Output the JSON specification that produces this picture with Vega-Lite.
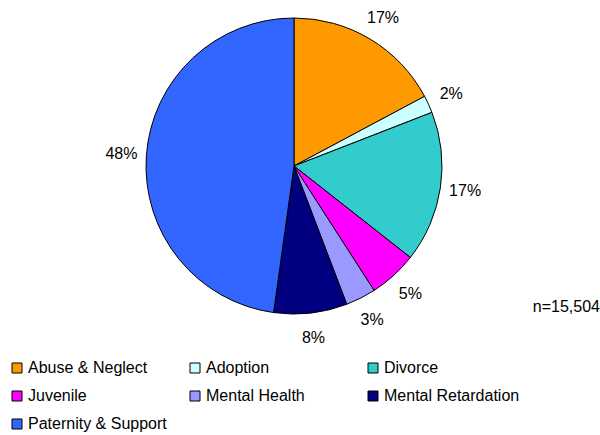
{
  "$schema": "https://vega.github.io/schema/vega-lite/v6.json",
  "width": 588,
  "height": 332,
  "padding": {"left": 0, "top": 0, "right": 12, "bottom": 103},
  "autosize": "none",
  "background": "white",
  "config": {"view": {"stroke": null}, "font": "Liberation Sans"},
  "title": {"text": "n=15,504", "orient": "bottom", "anchor": "end", "fontSize": 16, "fontWeight": "normal", "font": "Liberation Sans", "color": "black", "dx": 12, "dy": -133, "offset": 0},
  "data": {"values": [
    {"category": "Abuse & Neglect", "value": 17.2, "label": "17%", "order": 1},
    {"category": "Adoption", "value": 1.9, "label": "2%", "order": 2},
    {"category": "Divorce", "value": 16.5, "label": "17%", "order": 3},
    {"category": "Juvenile", "value": 5.3, "label": "5%", "order": 4},
    {"category": "Mental Health", "value": 3.3, "label": "3%", "order": 5},
    {"category": "Mental Retardation", "value": 8.0, "label": "8%", "order": 6},
    {"category": "Paternity & Support", "value": 47.8, "label": "48%", "order": 7}
  ]},
  "encoding": {
    "theta": {"field": "value", "type": "quantitative", "stack": true},
    "order": {"field": "order", "type": "quantitative"}
  },
  "layer": [
    {
      "mark": {"type": "arc", "outerRadius": 148, "stroke": "black", "strokeWidth": 1},
      "encoding": {
        "color": {
          "field": "category", "type": "nominal",
          "scale": {
            "domain": ["Abuse & Neglect", "Adoption", "Divorce", "Juvenile", "Mental Health", "Mental Retardation", "Paternity & Support"],
            "range": ["#FF9900", "#CCFFFF", "#33CCCC", "#FF00FF", "#9999FF", "#000080", "#3366FF"]
          },
          "legend": {
            "title": null, "orient": "none", "legendX": 9, "legendY": 360, "columns": 3, "direction": "horizontal",
            "symbolType": "square", "symbolSize": 100, "symbolStrokeColor": "black", "symbolStrokeWidth": 1,
            "labelFontSize": 16, "labelFont": "Liberation Sans", "labelColor": "black", "labelLimit": 300, "labelOffset": 3,
            "rowPadding": 12, "columnPadding": 20, "gridAlign": "all", "symbolOpacity": 1
          }
        }
      }
    },
    {
      "mark": {"type": "text", "radius": 173, "fontSize": 16, "font": "Liberation Sans", "color": "black"},
      "encoding": {"text": {"field": "label"}}
    }
  ]
}
